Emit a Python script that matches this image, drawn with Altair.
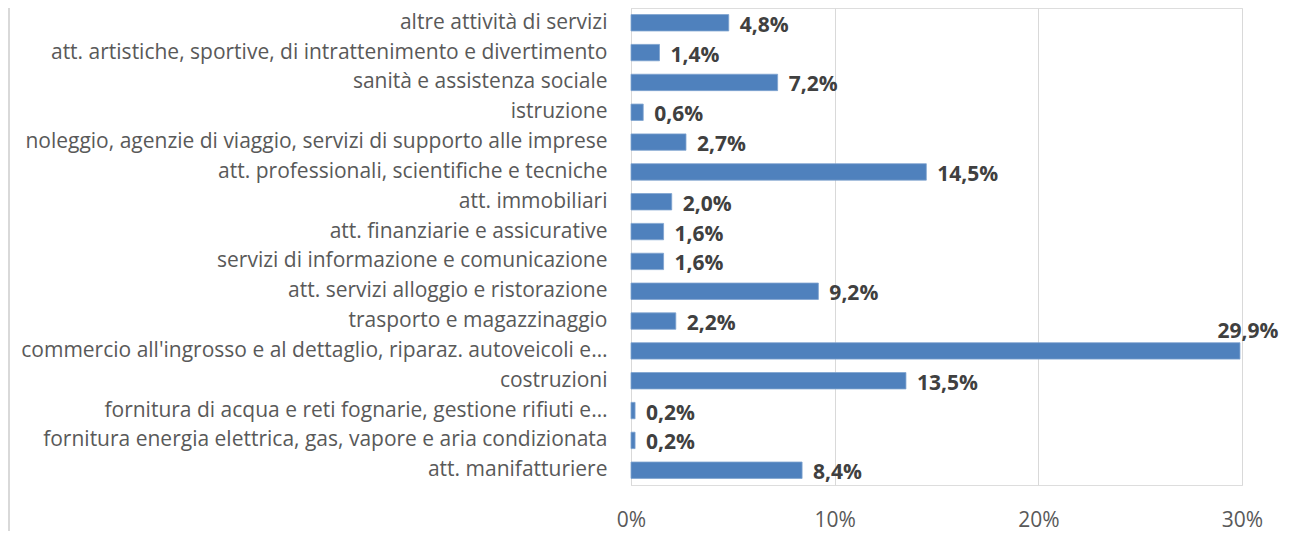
import altair as alt
import pandas as pd

categories = [
    "altre attività di servizi",
    "att. artistiche, sportive, di intrattenimento e divertimento",
    "sanità e assistenza sociale",
    "istruzione",
    "noleggio, agenzie di viaggio, servizi di supporto alle imprese",
    "att. professionali, scientifiche e tecniche",
    "att. immobiliari",
    "att. finanziarie e assicurative",
    "servizi di informazione e comunicazione",
    "att. servizi alloggio e ristorazione",
    "trasporto e magazzinaggio",
    "commercio all'ingrosso e al dettaglio, riparaz. autoveicoli e…",
    "costruzioni",
    "fornitura di acqua e reti fognarie, gestione rifiuti e…",
    "fornitura energia elettrica, gas, vapore e aria condizionata",
    "att. manifatturiere",
]
values = [4.8, 1.4, 7.2, 0.6, 2.7, 14.5, 2.0, 1.6, 1.6, 9.2, 2.2, 29.9, 13.5, 0.2, 0.2, 8.4]
x_ticks = [0, 10, 20, 30]

df = pd.DataFrame({"cat": categories, "v": values})

FONT = "Open Sans"
FS = 21
W, H = 611, 477

base = alt.Chart(df).transform_calculate(
    lab="replace(format(datum.v, '.1f'), '.', ',') + '%'"
)

y_enc = alt.Y("cat:N", sort=categories, title=None,
              scale=alt.Scale(paddingInner=0.45, paddingOuter=0.22),
              axis=alt.Axis(labelFont=FONT, labelFontSize=FS, labelColor="#595959",
                            labelPadding=24, labelLimit=700, ticks=False,
                            domainColor="#D9D9D9", grid=False))
x_scale = alt.Scale(domain=[0, 30], nice=False)

bars = base.mark_bar(color="#4F81BD", stroke="#7FA3CF", strokeWidth=0.8).encode(
    x=alt.X("v:Q", scale=x_scale, title=None,
            axis=alt.Axis(values=x_ticks, labelExpr="datum.value + '%'",
                          labelFont=FONT, labelFontSize=FS, labelColor="#595959",
                          labelPadding=24, labelFlush=False, ticks=False, domain=False,
                          grid=True, gridColor="#D9D9D9", gridWidth=1)),
    y=y_enc,
)

labels = base.transform_filter("datum.v < 29").mark_text(
    align="left", baseline="middle", dx=11, dy=3, font=FONT, fontSize=FS,
    fontWeight="bold", color="#404040"
).encode(x=alt.X("v:Q", scale=x_scale), y=alt.Y("cat:N", sort=categories), text="lab:N")

top_label = base.transform_filter("datum.v >= 29").mark_text(
    align="center", baseline="middle", dx=8, dy=-19, font=FONT, fontSize=FS,
    fontWeight="bold", color="#404040"
).encode(x=alt.X("v:Q", scale=x_scale), y=alt.Y("cat:N", sort=categories), text="lab:N")

border = alt.Chart(df).mark_rule(color="#D9D9D9", strokeWidth=1.5).encode(
    x=alt.value(-622), y=alt.value(-8), y2=alt.value(H + 60)
)

chart = alt.layer(bars, labels, top_label, border).properties(
    width=W, height=H,
    autosize=alt.AutoSizeParams(type="none"),
    padding={"left": 623, "top": 0, "right": 40, "bottom": 46},
).configure_view(stroke=None).configure(background="white")

chart.save("out.html", embed_options={"renderer": "svg", "actions": False})
